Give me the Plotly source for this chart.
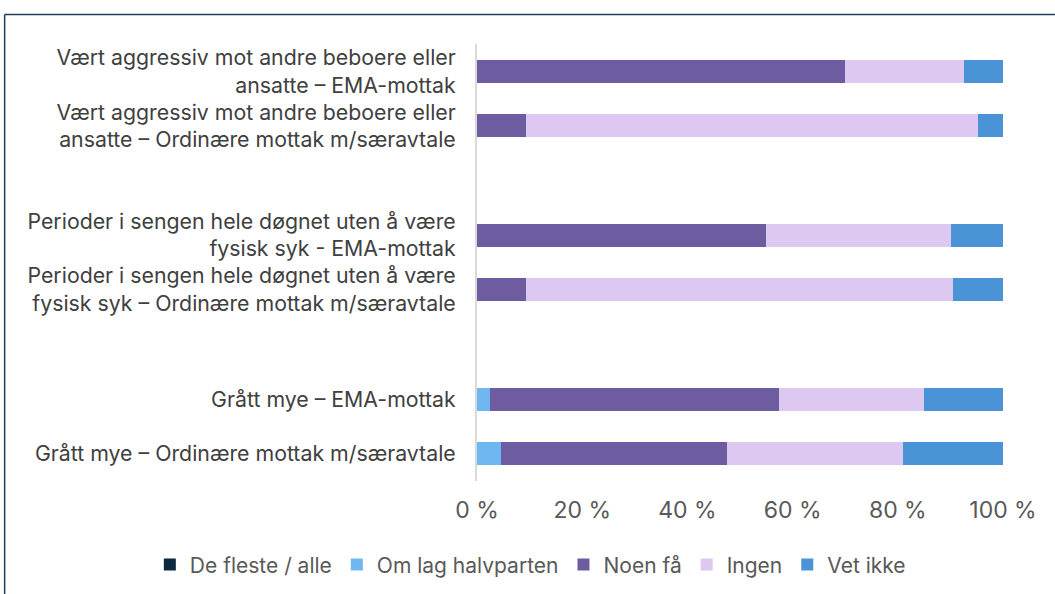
import plotly.graph_objects as go

categories = [
    "Vært aggressiv mot andre beboere eller<br>ansatte – EMA-mottak",
    "Vært aggressiv mot andre beboere eller<br>ansatte – Ordinære mottak m/særavtale",
    " ",
    "Perioder i sengen hele døgnet uten å være<br>fysisk syk - EMA-mottak",
    "Perioder i sengen hele døgnet uten å være<br>fysisk syk – Ordinære mottak m/særavtale",
    "  ",
    "Grått mye – EMA-mottak",
    "Grått mye – Ordinære mottak m/særavtale",
]

series_names = ["De fleste / alle", "Om lag halvparten", "Noen få", "Ingen", "Vet ikke"]
de_fleste = [0, 0, None, 0, 0, None, 0, 0]
om_lag = [0, 0, None, 0, 0, None, 2.4, 4.6]
noen_fa = [70.0, 9.4, None, 54.9, 9.4, None, 55.0, 42.9]
ingen = [22.5, 85.9, None, 35.2, 81.0, None, 27.5, 33.5]
vet_ikke = [7.5, 4.7, None, 9.9, 9.6, None, 15.1, 19.0]

colors = ["#0e2841", "#6fb7f0", "#6e5ca0", "#dcc8f0", "#4a93d6"]
values = [de_fleste, om_lag, noen_fa, ingen, vet_ikke]
tick_vals = [0, 20, 40, 60, 80, 100]
tick_text = ["0 %", "20 %", "40 %", "60 %", "80 %", "100 %"]

fig = go.Figure()
for name, vals, col in zip(series_names, values, colors):
    fig.add_trace(go.Bar(
        y=categories, x=vals, name=name, orientation="h",
        marker=dict(color=col, line=dict(width=0)),
        width=0.42,
    ))

fig.update_layout(
    barmode="stack",
    width=1055, height=594,
    margin=dict(l=477, r=52, t=44, b=113, autoexpand=False),
    paper_bgcolor="white", plot_bgcolor="white",
    font=dict(family="Inter, Open Sans, sans-serif", color="#404040"),
    xaxis=dict(range=[0, 100], tickvals=tick_vals, ticktext=tick_text,
               showgrid=False, zeroline=False, showline=False,
               tickfont=dict(size=23, color="#595959"), ticks="", ticklabelstandoff=13),
    yaxis=dict(categoryorder="array", categoryarray=categories, autorange="reversed",
               showgrid=False, zeroline=False, showline=True, linecolor="#d9d9d9", linewidth=2,
               ticks="", tickfont=dict(size=21.3, color="#404040"), ticklabelstandoff=15),
    legend=dict(orientation="h", xref="paper", x=-0.622, xanchor="left",
                yref="paper", y=-0.192, yanchor="middle",
                font=dict(size=21, color="#595959"), traceorder="normal",
                itemwidth=30, tracegroupgap=0),
    showlegend=True,
    shapes=[
        dict(type="line", xref="paper", yref="paper", x0=-0.898, x1=1.2, y0=1.0675, y1=1.0675,
             line=dict(color="#1f3c5c", width=1.5)),
        dict(type="line", xref="paper", yref="paper", x0=-0.898, x1=-0.898, y0=1.0675, y1=-0.3,
             line=dict(color="#1f3c5c", width=1.5)),
    ],
)

fig.write_html("out.html", config={"displayModeBar": False},
               post_script="document.body.style.margin='0';")
